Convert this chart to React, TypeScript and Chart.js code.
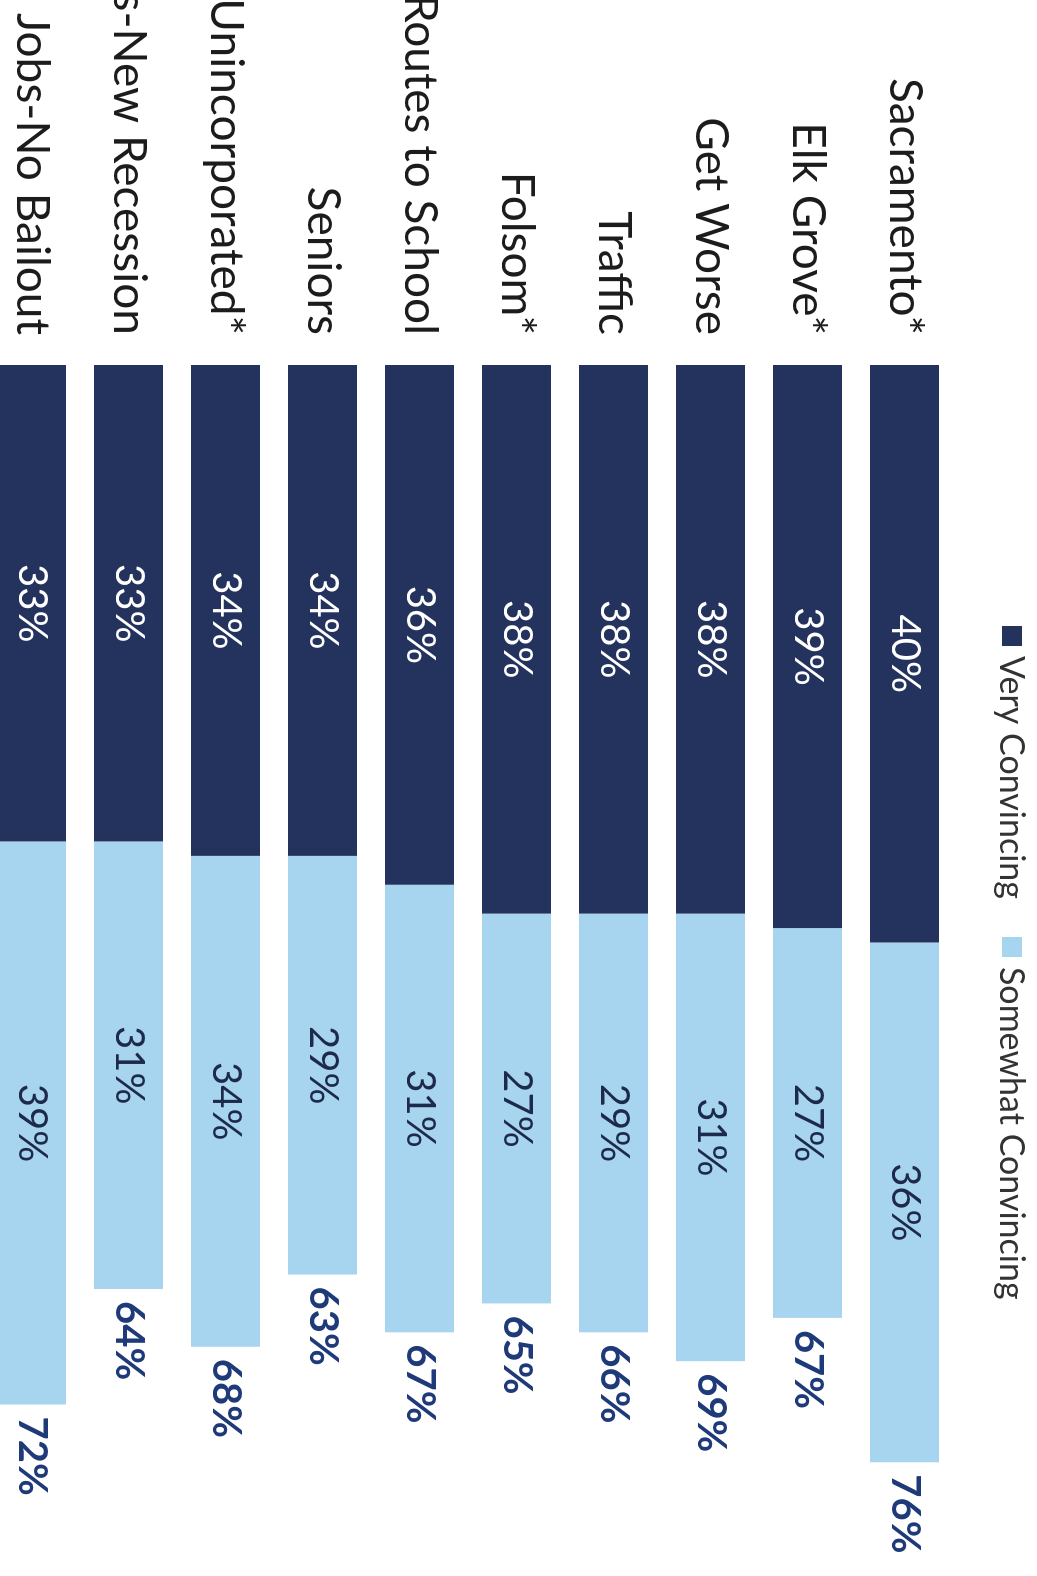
import React, { useEffect, useRef } from "react";
import { Chart, registerables } from "chart.js";

Chart.register(...registerables);

const categories = [
  "Sacramento*",
  "Elk Grove*",
  "Get Worse",
  "Traffic",
  "Folsom*",
  "Safe Routes to School",
  "Seniors",
  "Unincorporated*",
  "Jobs-New Recession",
  "Jobs-No Bailout",
];
const veryConvincing = [40, 39, 38, 38, 38, 36, 34, 34, 33, 33];
const somewhatConvincing = [36, 27, 31, 29, 27, 31, 29, 34, 31, 39];
const totals = [76, 67, 69, 66, 65, 67, 63, 68, 64, 72];
const seriesNames = ["Very Convincing", "Somewhat Convincing"];

const DARK = "#24325e";
const LIGHT = "#a7d4ee";
const FONT = "Lato, 'Open Sans', sans-serif";

const CW = 1576;
const CH = 1150;

const labelPlugin = {
  id: "barLabels",
  afterDatasetsDraw(chart: any) {
    const ctx = chart.ctx;
    ctx.save();
    ctx.textBaseline = "middle";
    chart.data.datasets.forEach((ds: any, di: number) => {
      const meta = chart.getDatasetMeta(di);
      meta.data.forEach((bar: any, i: number) => {
        const cx = (bar.base + bar.x) / 2;
        ctx.font = `40px ${FONT}`;
        ctx.textAlign = "center";
        ctx.fillStyle = di === 0 ? "#ffffff" : "#1e2a4c";
        ctx.fillText(`${ds.data[i]}%`, cx, bar.y);
        if (di === chart.data.datasets.length - 1) {
          ctx.font = `bold 40px ${FONT}`;
          ctx.textAlign = "left";
          ctx.fillStyle = "#1f3a78";
          ctx.fillText(`${totals[i]}%`, bar.x + 12, bar.y);
        }
      });
    });
    ctx.restore();
  },
};

const legendPlugin = {
  id: "customLegend",
  afterDraw(chart: any) {
    const ctx = chart.ctx;
    ctx.save();
    ctx.font = `34px ${FONT}`;
    ctx.textBaseline = "middle";
    ctx.textAlign = "left";
    const y = 25;
    let x = 626;
    const colors = [DARK, LIGHT];
    seriesNames.forEach((name, i) => {
      ctx.fillStyle = colors[i];
      ctx.fillRect(x, y - 10, 20, 20);
      x += 30;
      ctx.fillStyle = "#333333";
      ctx.fillText(name, x, y + 1);
      x += ctx.measureText(name).width + 38;
    });
    ctx.restore();
  },
};

export default function App() {
  const ref = useRef<HTMLCanvasElement | null>(null);
  useEffect(() => {
    if (!ref.current) return;
    const chart = new Chart(ref.current, {
      type: "bar",
      data: {
        labels: categories,
        datasets: [
          {
            label: seriesNames[0],
            data: veryConvincing,
            backgroundColor: DARK,
            barPercentage: 0.71,
            categoryPercentage: 1,
          },
          {
            label: seriesNames[1],
            data: somewhatConvincing,
            backgroundColor: LIGHT,
            barPercentage: 0.71,
            categoryPercentage: 1,
          },
        ],
      },
      options: {
        indexAxis: "y",
        responsive: false,
        animation: false,
        devicePixelRatio: 1,
        layout: { padding: { left: 0, right: CW - 1520, top: 84, bottom: CH - 1054 } },
        plugins: { legend: { display: false }, tooltip: { enabled: false } },
        scales: {
          x: { display: false, stacked: true, min: 0, max: 80 },
          y: {
            stacked: true,
            grid: { display: false, drawTicks: false },
            border: { display: false },
            ticks: {
              autoSkip: false,
              padding: 30,
              color: "#1c1c1c",
              font: { family: FONT, size: 46 },
            },
            afterFit(scale: any) {
              scale.width = 365;
            },
          },
        },
      },
      plugins: [labelPlugin, legendPlugin],
    });
    return () => chart.destroy();
  }, []);

  return (
    <div
      style={{
        position: "fixed",
        left: 0,
        top: 0,
        width: 1037,
        height: 1576,
        overflow: "hidden",
        background: "#ffffff",
      }}
    >
      <div
        style={{
          position: "absolute",
          left: 0,
          top: 0,
          width: CW,
          height: CH,
          transformOrigin: "0 0",
          transform: "translateX(1037px) rotate(90deg)",
        }}
      >
        <canvas ref={ref} width={CW} height={CH} style={{ display: "block" }} />
      </div>
    </div>
  );
}
